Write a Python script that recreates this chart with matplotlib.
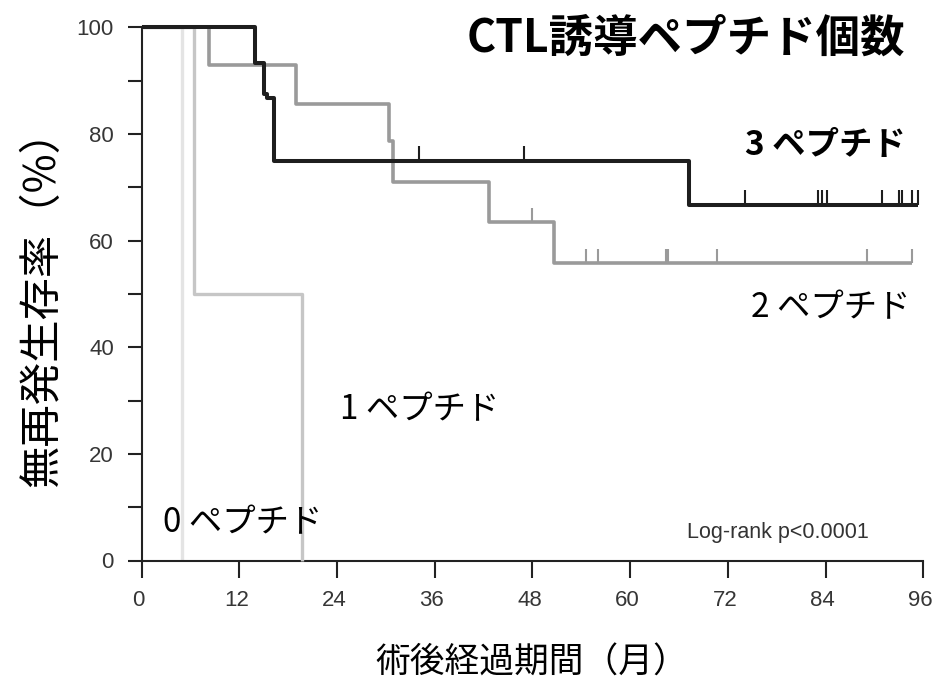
import numpy as np
import matplotlib
matplotlib.use("Agg")
import matplotlib.pyplot as plt
import matplotlib.transforms as mtransforms
from matplotlib.path import Path

plt.rcParams['font.family'] = ['Liberation Sans', 'DejaVu Sans']
JP = ['Noto Sans CJK JP', 'DejaVu Sans']

# ---- data ----
# 3 peptides
t3 = [0, 13.9, 15.0, 15.4, 16.2, 67.2, 95.4]
s3 = [100, 93.3, 87.5, 86.7, 75.0, 66.7, 66.7]
c3_t = [34.1, 46.9, 74.1, 83.1, 83.5, 84.2, 90.9, 93.0, 93.4, 94.6, 95.4]
c3_s = [75.0, 75.0, 66.7, 66.7, 66.7, 66.7, 66.7, 66.7, 66.7, 66.7, 66.7]
# 2 peptides
t2 = [0, 8.3, 18.9, 30.4, 30.9, 42.6, 50.7, 94.6]
s2 = [100, 92.9, 85.7, 78.6, 71.0, 63.5, 55.8, 55.8]
c2_t = [48.0, 54.6, 56.0, 64.4, 64.7, 70.6, 89.1, 94.6]
c2_s = [63.5, 55.8, 55.8, 55.8, 55.8, 55.8, 55.8, 55.8]
# 1 peptide
t1 = [0, 6.4, 19.7]
s1 = [100, 50.0, 0]
# 0 peptides
t0 = [0, 5.0]
s0 = [100, 0]

xticks = [0, 12, 24, 36, 48, 60, 72, 84, 96]
yticks = [0, 20, 40, 60, 80, 100]
yminor = [10, 30, 50, 70, 90]

title = "CTL誘導ペプチド個数"
xlabel = "術後経過期間（月）"
ylabel = "無再発生存率（%）"
group_labels = ["3 ペプチド", "2 ペプチド", "1 ペプチド", "0 ペプチド"]
pval = "Log-rank p<0.0001"

# ---- figure ----
W, H = 937, 681
fig = plt.figure(figsize=(W / 100, H / 100), dpi=100)
x0p, x1p, y0p, y1p = 141.7, 923.3, 560.5, 27.3
ax = fig.add_axes([x0p / W, (H - y0p) / H, (x1p - x0p) / W, (y0p - y1p) / H])
ax.set_xlim(0, 96)
ax.set_ylim(0, 100)

axc = '#222222'
for side in ['top', 'right']:
    ax.spines[side].set_visible(False)
for side in ['left', 'bottom']:
    ax.spines[side].set_linewidth(1.5)
    ax.spines[side].set_color(axc)

ax.set_xticks(xticks)
ax.set_yticks(yticks)
ax.set_yticks(yminor, minor=True)
lblc = '#363636'
ax.tick_params(axis='x', direction='out', length=12.5, width=1.5, color=axc,
               pad=9, labelsize=16, labelcolor=lblc)
ax.tick_params(axis='y', which='both', direction='out', length=10, width=1.5,
               color=axc, pad=10, labelsize=16, labelcolor=lblc)
offset = mtransforms.ScaledTranslation(-3 / 100, 0, fig.dpi_scale_trans)
for lbl in ax.get_xticklabels():
    lbl.set_transform(lbl.get_transform() + offset)

# ---- curves ----
c0, c1, c2, c3 = '#e4e4e4', '#c6c6c6', '#9a9a9a', '#1e1e1e'
ax.plot(t0, s0, drawstyle='steps-post', color=c0, lw=2.4, clip_on=False, zorder=2,
        solid_capstyle='butt')
ax.plot(t1, s1, drawstyle='steps-post', color=c1, lw=2.4, clip_on=False, zorder=3,
        solid_capstyle='butt')
ax.plot(t2, s2, drawstyle='steps-post', color=c2, lw=2.6, clip_on=False, zorder=4,
        solid_capstyle='butt')
ax.plot(t3, s3, drawstyle='steps-post', color=c3, lw=2.9, clip_on=False, zorder=5,
        solid_capstyle='butt')

tick_marker = Path([(0, 0), (0, 1)], [Path.MOVETO, Path.LINETO])
ax.plot(c2_t, c2_s, linestyle='none', marker=tick_marker, markersize=20,
        markeredgewidth=1.5, markeredgecolor=c2, clip_on=False, zorder=4)
ax.plot(c3_t, c3_s, linestyle='none', marker=tick_marker, markersize=22,
        markeredgewidth=1.5, markeredgecolor=c3, clip_on=False, zorder=5)

# ---- texts ----
ax.text(66.8, 97.8, title, family=JP, fontsize=32, fontweight='bold',
        ha='center', va='center', color='black')
ax.text(93.8, 77.9, group_labels[0], family=JP, fontsize=24, fontweight='bold',
        ha='right', va='center', color='black')
ax.text(94.4, 47.5, group_labels[1], family=JP, fontsize=24,
        ha='right', va='center', color='black')
ax.text(24.4, 28.2, group_labels[2], family=JP, fontsize=24,
        ha='left', va='center', color='black')
ax.text(2.6, 7.0, group_labels[3], family=JP, fontsize=24,
        ha='left', va='center', color='black')
ax.text(67.0, 5.3, pval, fontsize=15.5, ha='left', va='center', color='#333333')

fig.text(532 / W, 1 - 663 / H, xlabel, family=JP, fontsize=25,
         ha='center', va='center', color='black')
fig.text(42 / W, 1 - 298 / H, ylabel, family=JP, fontsize=30.5, rotation=90,
         ha='center', va='center', color='black')

fig.savefig('out.png', dpi=100)
